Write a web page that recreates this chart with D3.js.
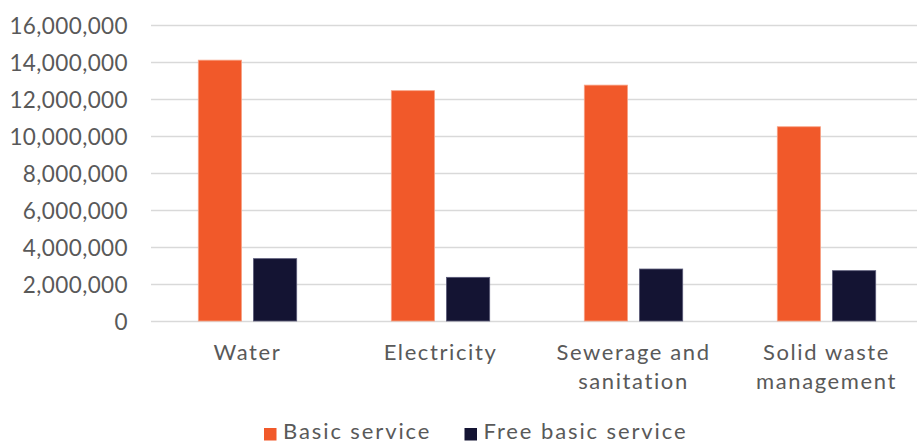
<!DOCTYPE html>
<html>
<head>
<meta charset="utf-8">
<script src="https://cdn.jsdelivr.net/npm/d3@7"></script>
<style>
  html, body { margin: 0; padding: 0; background: #fff; }
  svg { display: block; }
  text { font-family: Lato, "DejaVu Sans", sans-serif; fill: #595959; }
</style>
</head>
<body>
<svg id="chart" width="917" height="443"></svg>
<script>
const categories = ["Water", "Electricity", "Sewerage and sanitation", "Solid waste management"];
const categoryLines = [["Water"], ["Electricity"], ["Sewerage and", "sanitation"], ["Solid waste", "management"]];
const seriesNames = ["Basic service", "Free basic service"];
const basicService = [14100000, 12450000, 12750000, 10500000];
const freeBasicService = [3370000, 2360000, 2810000, 2720000];
const yTicks = [0, 2000000, 4000000, 6000000, 8000000, 10000000, 12000000, 14000000, 16000000];
const colors = ["#F1592A", "#141433"];

const svg = d3.select("#chart");
const plotLeft = 151, plotRight = 923, plotTop = 25, plotBottom = 321;

const y = d3.scaleLinear().domain([0, 16000000]).range([plotBottom, plotTop]);
const x0 = d3.scaleBand().domain(categories).range([plotLeft, plotRight]).padding(0);
const groupW = 98.4;
const x1 = d3.scaleBand().domain(seriesNames)
  .range([(x0.bandwidth() - groupW) / 2, (x0.bandwidth() + groupW) / 2])
  .paddingInner(0.217).paddingOuter(0);

// gridlines
const yAxis = d3.axisLeft(y).tickValues(yTicks).tickSize(-(917 - plotLeft)).tickFormat(d3.format(","));
const gy = svg.append("g").attr("transform", `translate(${plotLeft},0)`).call(yAxis);
gy.select(".domain").remove();
gy.selectAll(".tick line").attr("stroke", "#d9d9d9").attr("stroke-width", 1.5);
gy.selectAll(".tick text").attr("x", -23).attr("dy", "0.36em")
  .style("font-size", "22.5px").style("letter-spacing", "0.4px").style("fill", "#595959");

// bars
const rows = categories.map((c, i) => ({ cat: c, values: [basicService[i], freeBasicService[i]] }));
const groups = svg.append("g").selectAll("g").data(rows).join("g")
  .attr("transform", d => `translate(${x0(d.cat)},0)`);
groups.selectAll("rect").data(d => d.values.map((v, j) => ({ s: seriesNames[j], v, j })))
  .join("rect")
  .attr("x", d => x1(d.s))
  .attr("width", x1.bandwidth())
  .attr("y", d => y(d.v))
  .attr("height", d => y(0) - y(d.v))
  .attr("fill", d => colors[d.j])
  .attr("stroke", d => d.j === 0 ? "#f7a286" : "#5a5a78")
  .attr("stroke-width", 0.8);

// x labels
const xl = svg.append("g").selectAll("text").data(categories).join("text")
  .attr("text-anchor", "middle")
  .attr("x", d => x0(d) + x0.bandwidth() / 2)
  .attr("y", 360)
  .style("font-size", "22px").style("letter-spacing", "1.6px");
xl.each(function(d, i) {
  const t = d3.select(this);
  categoryLines[i].forEach((line, k) => {
    t.append("tspan").attr("x", x0(d) + x0.bandwidth() / 2).attr("y", 360 + k * 29).text(line);
  });
});

// legend
const legendItems = [{ name: seriesNames[0], x: 264 }, { name: seriesNames[1], x: 464.5 }];
const lg = svg.append("g").selectAll("g").data(legendItems).join("g")
  .attr("transform", d => `translate(${d.x},0)`);
lg.append("rect").attr("x", 0).attr("y", 428).attr("width", 12.5).attr("height", 12.5)
  .attr("fill", (d, i) => colors[i]);
lg.append("text").attr("x", 19).attr("y", 438.5).style("font-size", "22px")
  .style("letter-spacing", "1.9px").text(d => d.name);
</script>
</body>
</html>
